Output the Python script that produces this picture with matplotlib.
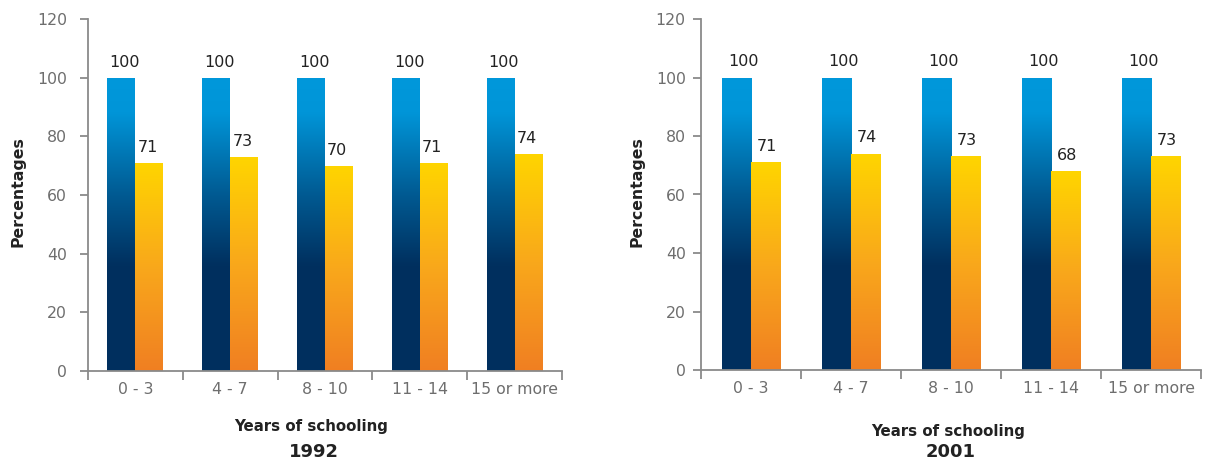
import numpy as np
import matplotlib
matplotlib.use("Agg")
import matplotlib.pyplot as plt
from matplotlib.colors import LinearSegmentedColormap

plt.rcParams['font.family'] = ['DejaVu Sans']

categories = ["0 - 3", "4 - 7", "8 - 10", "11 - 14", "15 or more"]
blue_1992 = [100, 100, 100, 100, 100]
yellow_1992 = [71, 73, 70, 71, 74]
blue_2001 = [100, 100, 100, 100, 100]
yellow_2001 = [71, 74, 73, 68, 73]
years = ["1992", "2001"]
x_title = "Years of schooling"
y_title = "Percentages"

blue_cmap = LinearSegmentedColormap.from_list(
    "blue_bar", [(0.0, "#002F5E"), (0.36, "#00305F"), (0.6, "#005A92"),
                 (0.88, "#0095D8"), (1.0, "#0098DB")])
gold_cmap = LinearSegmentedColormap.from_list(
    "gold_bar", [(0.0, "#F07F22"), (0.5, "#F9A81B"), (1.0, "#FFD500")])

AXIS_GREY = "#8a8a8a"
TICK_GREY = "#6e6e6e"
TEXT_DARK = "#222222"

fig = plt.figure(figsize=(12.25, 4.61), dpi=100)

panels = [
    dict(rect=[88 / 1225, 90 / 461, 474 / 1225, 352 / 461],
         blue=blue_1992, gold=yellow_1992, year=years[0],
         lab_dx=1.5, ypad=9.0, title_x=311 / 1225, title_y=30 / 461,
         year_y=4 / 461, ylab_x=18 / 1225),
    dict(rect=[701 / 1225, 91 / 461, 500 / 1225, 351 / 461],
         blue=blue_2001, gold=yellow_2001, year=years[1],
         lab_dx=4.5, ypad=5.0, title_x=948 / 1225, title_y=25 / 461,
         year_y=4 / 461, ylab_x=637 / 1225),
]

grad = np.linspace(0, 1, 256).reshape(-1, 1)


def gradient_bars(ax, xs, heights, width, cmap):
    bars = ax.bar(xs, heights, width=width, color="none", edgecolor="none")
    for bar in bars:
        x0 = bar.get_x()
        h = bar.get_height()
        im = ax.imshow(grad, cmap=cmap, origin="lower", aspect="auto",
                       extent=[x0, x0 + bar.get_width(), 0, h],
                       interpolation="bilinear", zorder=2)
        im.set_clip_path(bar)
    return bars


w = 0.295
idx = np.arange(len(categories))
for p in panels:
    ax = fig.add_axes(p["rect"])
    b1 = gradient_bars(ax, idx - w / 2, p["blue"], w, blue_cmap)
    b2 = gradient_bars(ax, idx + w / 2, p["gold"], w, gold_cmap)
    for bars, vals in ((b1, p["blue"]), (b2, p["gold"])):
        for bar, v in zip(bars, vals):
            ax.annotate(f"{v}", xy=(bar.get_x(), v), xytext=(p["lab_dx"], 8),
                        textcoords="offset points", ha="left", va="baseline",
                        fontsize=11.5, color=TEXT_DARK)
    ax.set_xlim(-0.5, len(categories) - 0.5)
    ax.set_ylim(0, 120)
    ax.set_yticks(np.arange(0, 121, 20))
    ax.set_xticks(idx)
    ax.set_xticklabels(categories)
    ax.set_xticks(np.arange(-0.5, len(categories), 1.0), minor=True)
    for s in ("top", "right"):
        ax.spines[s].set_visible(False)
    for s in ("left", "bottom"):
        ax.spines[s].set_color(AXIS_GREY)
        ax.spines[s].set_linewidth(1.3)
    ax.tick_params(axis="y", length=6, width=1.3, color=AXIS_GREY,
                   labelcolor=TICK_GREY, labelsize=11.3, pad=p["ypad"])
    ax.tick_params(axis="x", which="major", length=0, labelcolor=TICK_GREY,
                   labelsize=11.3, pad=8)
    ax.tick_params(axis="x", which="minor", length=6.5, width=1.3,
                   color=AXIS_GREY)
    ax.patch.set_visible(False)

    fig.text(p["ylab_x"], (461 - 192) / 461, y_title,
             rotation=90, ha="center", va="center", fontsize=11.3,
             fontweight="bold", color=TEXT_DARK)
    fig.text(p["title_x"], p["title_y"], x_title, ha="center",
             va="baseline", fontsize=10.8, fontweight="bold", color=TEXT_DARK)
    fig.text(p["title_x"] + 3 / 1225, p["year_y"], p["year"], ha="center",
             va="baseline", fontsize=13, fontweight="bold", color=TEXT_DARK)

fig.savefig("out.png", dpi=100)
